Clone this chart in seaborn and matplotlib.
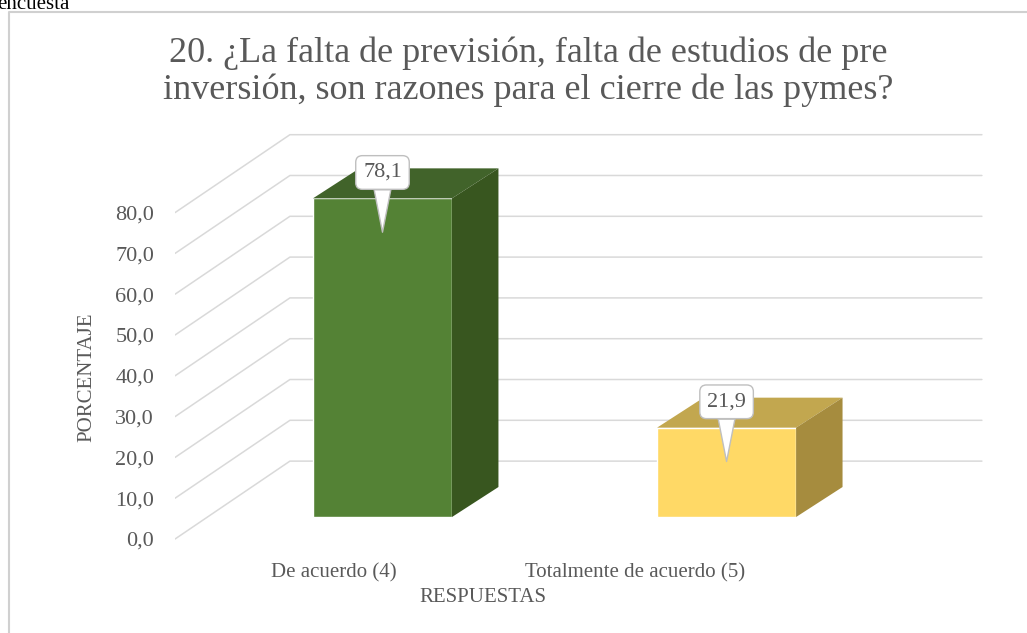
import matplotlib
matplotlib.use("Agg")
import matplotlib.pyplot as plt
from matplotlib.patches import Polygon
from matplotlib.lines import Line2D
import seaborn as sns
import pandas as pd

# ---- data ----
categories = ["De acuerdo (4)", "Totalmente de acuerdo (5)"]
values = [78.1, 21.9]
value_labels = ["78,1", "21,9"]
ytick_values = [0, 10, 20, 30, 40, 50, 60, 70, 80]
ytick_labels = ["0,0", "10,0", "20,0", "30,0", "40,0", "50,0", "60,0", "70,0", "80,0"]
title = "20. ¿La falta de previsión, falta de estudios de pre\ninversión, son razones para el cierre de las pymes?"
xlabel = "RESPUESTAS"
ylabel = "PORCENTAJE"

front_colors = ["#548235", "#FFD966"]
top_colors = ["#41632A", "#C2A74F"]
side_colors = ["#38561F", "#A68C3E"]
text_color = "#595959"
grid_color = "#D9D9D9"

sns.set_theme(style="white")
plt.rcParams["font.family"] = ["Liberation Serif", "DejaVu Serif"]

W, H = 1027, 633
fig = plt.figure(figsize=(W / 100, H / 100), dpi=100)
ax = fig.add_axes([175 / W, (H - 545) / H, (985 - 175) / W, (545 - 130) / H])

df = pd.DataFrame({"cat": categories, "val": values})
bar_w = 0.404
sns.barplot(data=df, x="cat", y="val", hue="cat", palette=front_colors,
            width=bar_w, legend=False, ax=ax, saturation=1, zorder=3)

ax.set_xlim(-0.603, 1.751)
ax.set_ylim(-6.86, 94.85)

# 3D geometry (style offsets)
depth_dx = 0.135
depth_dy = 7.35
front_off = -5.4   # front-edge (labels) offset in value units
back_off = 13.7    # back wall offset in value units
wall_x0 = -0.603
wall_x1 = -0.269
wall_x2 = 1.742

# grid: side-wall diagonals + back wall lines
for v in ytick_values:
    ax.add_line(Line2D([wall_x0, wall_x1, wall_x2],
                       [v + front_off, v + back_off, v + back_off],
                       color=grid_color, lw=1.1, zorder=1))

# top and side faces of bars
for i, (v, p) in enumerate(zip(values, ax.patches)):
    x0 = p.get_x()
    x1 = x0 + p.get_width()
    top = Polygon([(x0, v), (x1, v), (x1 + depth_dx, v + depth_dy), (x0 + depth_dx, v + depth_dy)],
                  closed=True, fc=top_colors[i], ec="none", zorder=3)
    side = Polygon([(x1, 0), (x1, v), (x1 + depth_dx, v + depth_dy), (x1 + depth_dx, depth_dy)],
                   closed=True, fc=side_colors[i], ec="none", zorder=3)
    ax.add_patch(top)
    ax.add_patch(side)
    # callout data labels
    ax.annotate(value_labels[i], xy=(i, v - 8.3), xytext=(0, 43), textcoords="offset points",
                ha="center", va="center", fontsize=16, color=text_color, zorder=6,
                bbox=dict(boxstyle="round,pad=0.33,rounding_size=0.3", fc="white", ec="#BFBFBF", lw=1),
                arrowprops=dict(arrowstyle="wedge,tail_width=0.75,shrink_factor=0.5",
                                fc="white", ec="#BFBFBF", lw=1,
                                shrinkA=0, shrinkB=0))

# ticks
ax.set_yticks([v + front_off for v in ytick_values])
ax.set_yticklabels(ytick_labels)
ax.set_xticks([-0.141, 0.734])
ax.set_xticklabels(categories)
ax.tick_params(axis="y", length=0, pad=15, labelsize=16, labelcolor=text_color)
ax.tick_params(axis="x", length=0, pad=13, labelsize=15, labelcolor=text_color)
ax.set_xlabel("")
ax.set_ylabel("")
for s in ax.spines.values():
    s.set_visible(False)
ax.grid(False)

fig.text(87 / W, 1 - 377 / H, ylabel, rotation=90, ha="center", va="center",
         fontsize=15, color=text_color)
fig.text(483 / W, 1 - 597 / H, xlabel, ha="center", va="center",
         fontsize=15, color=text_color)
fig.text(528 / W, 1 - 72 / H, title, ha="center", va="center",
         fontsize=26, color=text_color, linespacing=1.12)

# chart border (top and left visible) and caption fragment
fig.add_artist(Line2D([9 / W, 9 / W, 1.0], [0.0, 1 - 12 / H, 1 - 12 / H],
                      transform=fig.transFigure, color="#D0D0D0", lw=1.5))
fig.text(-3 / W, 1 - 9 / H, "encuesta", ha="left", va="baseline", fontsize=15, color="black")

fig.savefig("out.png", dpi=100)
